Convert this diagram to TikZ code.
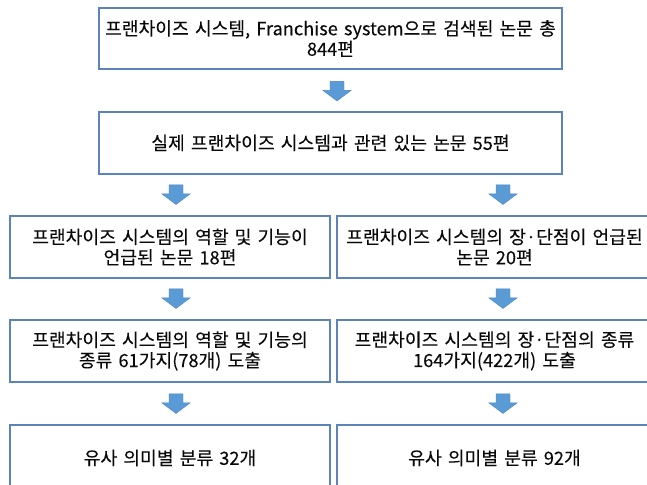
\documentclass[tikz,border=0pt]{standalone}
\usepackage{fontspec}
\setmainfont{Noto Sans CJK KR}[WordSpace=1.5, BoldFont={Noto Sans CJK KR}, BoldFeatures={FakeBold=0.12}]
\usetikzlibrary{calc}
\definecolor{boxline}{HTML}{5A84BA}
\definecolor{arrowfill}{HTML}{5B9BD5}
\definecolor{arrowline}{HTML}{4A86C4}
\definecolor{txt}{HTML}{0A0A0A}
\tikzset{
  box/.style={draw=boxline, line width=1.1pt, fill=white, rectangle, inner sep=0pt,
    align=center, text=txt, font=\fontsize{18.2pt}{20.5pt}\selectfont\bfseries},
  blockarrow/.pic={\path[fill=arrowfill, draw=arrowline, line width=0.4pt]
    (-7,9.5) -- (7,9.5) -- (7,0.5) -- (14,0.5) -- (0,-10) -- (-14,0.5) -- (-7,0.5) -- cycle;}
}
\begin{document}
\begin{tikzpicture}[x=1pt,y=1pt]
\useasboundingbox (0,0) rectangle (647,484);
\clip (0,0) rectangle (647,484);
\fill[white] (0,0) rectangle (647,484);
\node[box, minimum width=463pt, minimum height=61pt] (b1) at (330.5,445.5)
  {프랜차이즈 시스템, Franchise system으로 검색된 논문 총\\844편};
\node[box, minimum width=463pt, minimum height=62pt] (b2) at (330.5,341)
  {실제 프랜차이즈 시스템과 관련 있는 논문 55편};
\node[box, minimum width=320pt, minimum height=62pt] (b3l) at (170,237)
  {프랜차이즈 시스템의 역할 및 기능이\\언급된 논문 18편};
\node[box, minimum width=315pt, minimum height=62pt] (b3r) at (494.5,237)
  {프랜차이즈 시스템의 장·단점이 언급된\\논문 20편};
\node[box, minimum width=320pt, minimum height=62pt] (b4l) at (170,133)
  {프랜차이즈 시스템의 역할 및 기능의\\종류 61가지(78개) 도출};
\node[box, minimum width=315pt, minimum height=62pt] (b4r) at (494.5,133)
  {프랜차이즈 시스템의 장·단점의 종류\\164가지(422개) 도출};
\node[box, minimum width=320pt, minimum height=66pt] (b5l) at (170,26)
  {유사 의미별 분류 32개};
\node[box, minimum width=315pt, minimum height=66pt] (b5r) at (494.5,26)
  {유사 의미별 분류 92개};
\pic (a1) at ($(b2.north)+(6.5,20.5)$) {blockarrow};
\pic (a2l) at ($(b3l.north)+(6,21)$) {blockarrow};
\pic (a2r) at ($(b3r.north)+(8.5,21)$) {blockarrow};
\pic (a3l) at ($(b4l.north)+(6,21)$) {blockarrow};
\pic (a3r) at ($(b4r.north)+(8.5,21)$) {blockarrow};
\pic (a4l) at ($(b5l.north)+(6,21)$) {blockarrow};
\pic (a4r) at ($(b5r.north)+(8.5,21)$) {blockarrow};
\end{tikzpicture}
\end{document}
